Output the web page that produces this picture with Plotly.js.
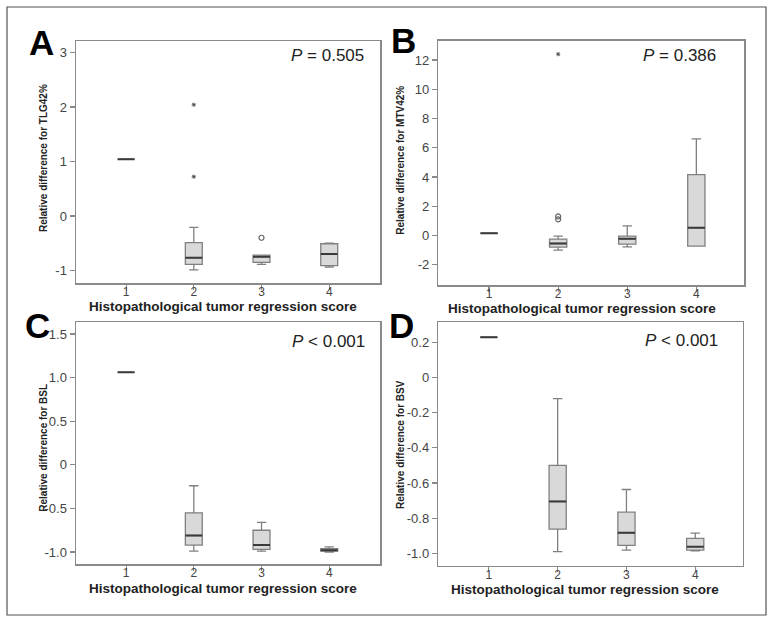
<!DOCTYPE html>
<html>
<head>
<meta charset="utf-8">
<script src="https://cdn.plot.ly/plotly-3.0.1.min.js"></script>
<style>html,body{margin:0;padding:0;background:#fff;}#chart{width:771px;height:623px;}</style>
</head>
<body>
<div id="chart"></div>
<script>
// ---------- DATA ----------
const scores = [1, 2, 3, 4];
const scoreLabels = ['1', '2', '3', '4'];

// Panel A: TLG42%
const A_q1  = [1.04, -0.89, -0.85, -0.91];
const A_med = [1.04, -0.765, -0.75, -0.70];
const A_q3  = [1.04, -0.49, -0.72, -0.51];
const A_lo  = [1.04, -0.99, -0.89, -0.94];
const A_hi  = [1.04, -0.21, -0.72, -0.50];
const A_extX = [2, 2];
const A_extY = [2.04, 0.72];
const A_outX = [3];
const A_outY = [-0.40];
const A_ticks = [-1, 0, 1, 2, 3];
const A_tickText = ['-1', '0', '1', '2', '3'];

// Panel B: MTV42%
const B_q1  = [0.15, -0.80, -0.60, -0.73];
const B_med = [0.15, -0.55, -0.23, 0.52];
const B_q3  = [0.15, -0.25, -0.05, 4.16];
const B_lo  = [0.15, -1.00, -0.78, -0.73];
const B_hi  = [0.15, -0.05, 0.66, 6.60];
const B_extX = [2];
const B_extY = [12.4];
const B_outX = [2, 2];
const B_outY = [1.1, 1.3];
const B_ticks = [-2, 0, 2, 4, 6, 8, 10, 12];
const B_tickText = ['-2', '0', '2', '4', '6', '8', '10', '12'];

// Panel C: BSL
const C_q1  = [1.06, -0.92, -0.97, -0.99];
const C_med = [1.06, -0.81, -0.92, -0.98];
const C_q3  = [1.06, -0.55, -0.75, -0.96];
const C_lo  = [1.06, -0.99, -0.99, -1.00];
const C_hi  = [1.06, -0.24, -0.66, -0.94];
const C_ticks = [-1, -0.5, 0, 0.5, 1, 1.5];
const C_tickText = ['-1.0', '-0.5', '0', '0.5', '1.0', '1.5'];

// Panel D: BSV
const D_q1  = [0.228, -0.862, -0.955, -0.981];
const D_med = [0.228, -0.705, -0.883, -0.962];
const D_q3  = [0.228, -0.500, -0.766, -0.915];
const D_lo  = [0.228, -0.990, -0.981, -0.985];
const D_hi  = [0.228, -0.121, -0.637, -0.885];
const D_ticks = [-1, -0.8, -0.6, -0.4, -0.2, 0, 0.2];
const D_tickText = ['-1.0', '-0.8', '-0.6', '-0.4', '-0.2', '0', '0.2'];

const panelLetters = ['A', 'B', 'C', 'D'];
const pTexts = ['<i>P</i> = 0.505', '<i>P</i> = 0.386', '<i>P</i> < 0.001', '<i>P</i> < 0.001'];
const yTitles = ['Relative difference for TLG42%', 'Relative difference for MTV42%',
                 'Relative difference for BSL', 'Relative difference for BSV'];
const xTitle = 'Histopathological tumor regression score';

// ---------- LAYOUT HELPERS ----------
const W = 771, H = 623;
const px = v => v / W;
const py = v => 1 - v / H;
const FONT = 'Arial, "Liberation Sans", sans-serif';

const BOX_FILL = '#d9d9d9', BOX_LINE = '#808080', MED_LINE = '#3a3a3a';

function boxTraces(ax, q1, med, q3, lo, hi) {
  const xa = 'x' + ax, ya = 'y' + ax;
  return [
    {type: 'box', orientation: 'v', x: scores, q1: q1, median: med, q3: q3,
     lowerfence: lo, upperfence: hi, xaxis: xa, yaxis: ya, width: 0.25,
     whiskerwidth: 0.55, fillcolor: BOX_FILL, line: {color: BOX_LINE, width: 1.3},
     boxpoints: false, hoverinfo: 'skip', showlegend: false},
    {type: 'box', orientation: 'v', x: scores, q1: med, median: med, q3: med,
     lowerfence: med, upperfence: med, xaxis: xa, yaxis: ya, width: 0.25,
     whiskerwidth: 1, fillcolor: 'rgba(0,0,0,0)', line: {color: MED_LINE, width: 2},
     boxpoints: false, hoverinfo: 'skip', showlegend: false}
  ];
}
function pointTrace(ax, xs, ys, symbol) {
  const isCircle = symbol === 'circle-open';
  return {type: 'scatter', mode: 'markers', x: xs, y: ys, xaxis: 'x' + ax, yaxis: 'y' + ax,
    marker: {symbol: symbol, size: isCircle ? 5 : 3.5,
             color: isCircle ? '#666' : '#555',
             line: {color: isCircle ? '#666' : '#555', width: isCircle ? 1.2 : 1}},
    hoverinfo: 'skip', showlegend: false};
}

const data = [].concat(
  boxTraces('', A_q1, A_med, A_q3, A_lo, A_hi),
  [pointTrace('', A_extX, A_extY, 'asterisk-open'), pointTrace('', A_outX, A_outY, 'circle-open')],
  boxTraces('2', B_q1, B_med, B_q3, B_lo, B_hi),
  [pointTrace('2', B_extX, B_extY, 'asterisk-open'), pointTrace('2', B_outX, B_outY, 'circle-open')],
  boxTraces('3', C_q1, C_med, C_q3, C_lo, C_hi),
  boxTraces('4', D_q1, D_med, D_q3, D_lo, D_hi)
);

function xAxis(dom, range, anchor) {
  return {domain: dom, range: range, anchor: anchor, tickvals: scores, ticktext: scoreLabels,
    showline: true, mirror: true, linecolor: '#8a8a8a', linewidth: 1.5, ticks: 'outside',
    ticklen: 5, tickcolor: '#8a8a8a', tickwidth: 1.2, showgrid: false, zeroline: false,
    ticklabelstandoff: -8,
    tickfont: {family: FONT, size: 12, color: '#444'}, fixedrange: true};
}
function yAxis(dom, range, anchor, tv, tt) {
  return {domain: dom, range: range, anchor: anchor, tickvals: tv, ticktext: tt,
    showline: true, mirror: true, linecolor: '#8a8a8a', linewidth: 1.5, ticks: 'outside',
    ticklen: 5, tickcolor: '#8a8a8a', tickwidth: 1.2, showgrid: false, zeroline: false,
    tickfont: {family: FONT, size: 13, color: '#444'}, fixedrange: true};
}

const annotations = [];
const letterPos = [[41.5, 42.5], [403, 40.5], [37.5, 325], [401, 325]];
const pPos = [[366, 55.7], [718, 55.7], [367, 341.7], [720, 340.7]];
const yTitlePos = [[43, 158], [400.7, 160], [42.7, 448], [400, 445]];
const xTitlePos = [[223, 306], [582, 308], [223, 588], [584.5, 589.5]];
for (let i = 0; i < 4; i++) {
  annotations.push({xref: 'paper', yref: 'paper', x: px(letterPos[i][0]), y: py(letterPos[i][1]),
    xanchor: 'center', yanchor: 'middle', showarrow: false, text: '<b>' + panelLetters[i] + '</b>',
    font: {family: FONT, size: 35, color: '#000'}});
  annotations.push({xref: 'paper', yref: 'paper', x: px(pPos[i][0]), y: py(pPos[i][1]),
    xanchor: 'right', yanchor: 'middle', showarrow: false, text: pTexts[i],
    font: {family: FONT, size: 17, color: '#222'}});
  annotations.push({xref: 'paper', yref: 'paper', x: px(yTitlePos[i][0]), y: py(yTitlePos[i][1]),
    xanchor: 'center', yanchor: 'middle', showarrow: false, textangle: -90, text: '<b>' + yTitles[i] + '</b>',
    font: {family: FONT, size: 10, color: '#222'}});
  annotations.push({xref: 'paper', yref: 'paper', x: px(xTitlePos[i][0]), y: py(xTitlePos[i][1]),
    xanchor: 'center', yanchor: 'middle', showarrow: false, text: '<b>' + xTitle + '</b>',
    font: {family: FONT, size: 13.5, color: '#222'}});
}

const layout = {
  width: W, height: H, margin: {l: 0, r: 0, t: 0, b: 0},
  paper_bgcolor: '#fff', plot_bgcolor: '#fff', showlegend: false, boxmode: 'overlay',
  xaxis:  xAxis([px(76), px(380)], [0.26, 4.75], 'y'),
  yaxis:  yAxis([py(283), py(41)], [-1.23, 3.21], 'x', A_ticks, A_tickText),
  xaxis2: xAxis([px(438.3), px(744)], [0.265, 4.69], 'y2'),
  yaxis2: yAxis([py(285), py(40.7)], [-3.39, 13.32], 'x2', B_ticks, B_tickText),
  xaxis3: xAxis([px(76), px(380)], [0.26, 4.75], 'y3'),
  yaxis3: yAxis([py(564), py(322.3)], [-1.137, 1.634], 'x3', C_ticks, C_tickText),
  xaxis4: xAxis([px(438.3), px(742.7)], [0.265, 4.69], 'y4'),
  yaxis4: yAxis([py(565.7), py(322.3)], [-1.07, 0.313], 'x4', D_ticks, D_tickText),
  annotations: annotations,
  shapes: [{type: 'rect', xref: 'paper', yref: 'paper', x0: px(7), x1: px(766), y0: py(615), y1: py(7),
    line: {color: '#555', width: 1.2}, fillcolor: 'rgba(0,0,0,0)'}]
};

Plotly.newPlot('chart', data, layout, {displayModeBar: false, staticPlot: true});
</script>
</body>
</html>
